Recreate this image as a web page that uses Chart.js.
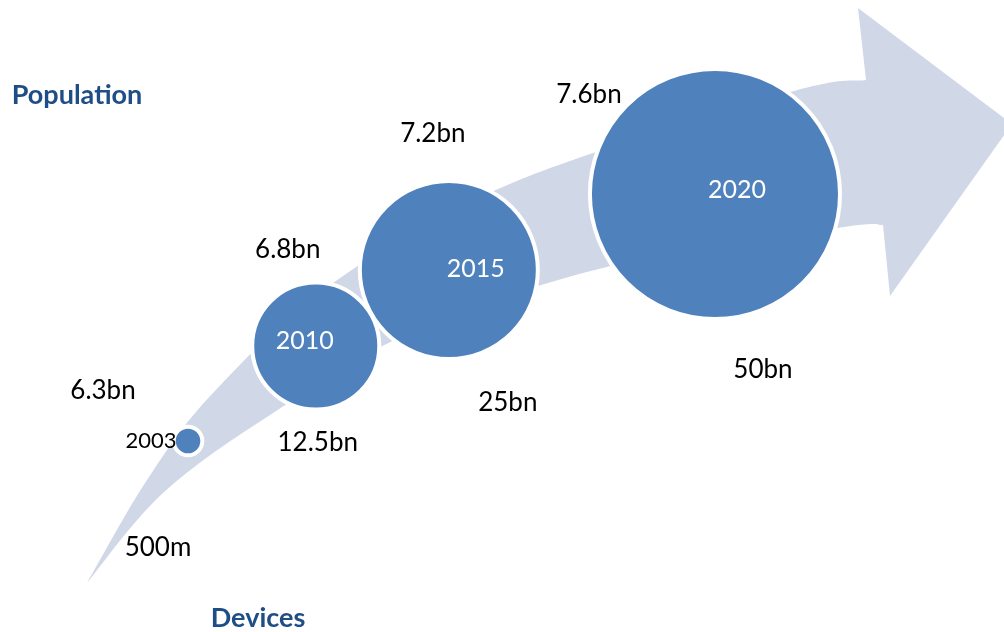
<!DOCTYPE html>
<html>
<head>
<meta charset="utf-8">
<script src="https://cdn.jsdelivr.net/npm/chart.js@4"></script>
<style>
  html, body { margin: 0; padding: 0; background: #fff; }
  #wrap { width: 1004px; height: 632px; position: relative; }
</style>
</head>
<body>
<div id="wrap"><canvas id="chart" width="1004" height="632"></canvas></div>
<script>
// values
const years = ['2003', '2010', '2015', '2020'];
const population = [6.3, 6.8, 7.2, 7.6];          // bn people
const devices = [0.5, 12.5, 25, 50];              // bn devices
const populationLabels = ['6.3bn', '6.8bn', '7.2bn', '7.6bn'];
const deviceLabels = ['500m', '12.5bn', '25bn', '50bn'];

const BLUE = '#4f81bd';
const BAND = '#d0d8e8';
const TITLE = '#1f4e86';

// label placement relative to each bubble (layout only)
const popOffset = [[-85, -50], [-28, -96], [-16, -136], [-126, -99]];
const devOffset = [[-30, 107], [2, 97], [59, 133], [48, 176]];
const yearOffset = [[-37, 0], [-11, -5], [27, -1], [22, -4]];

// catmull-rom through points
function smooth(ctx, pts, first) {
    if (first) ctx.moveTo(pts[0][0], pts[0][1]);
    else ctx.lineTo(pts[0][0], pts[0][1]);
    for (let i = 0; i < pts.length - 1; i++) {
        const p0 = pts[i - 1] || pts[i], p1 = pts[i], p2 = pts[i + 1], p3 = pts[i + 2] || pts[i + 1];
        ctx.bezierCurveTo(
            p1[0] + (p2[0] - p0[0]) / 6, p1[1] + (p2[1] - p0[1]) / 6,
            p2[0] - (p3[0] - p1[0]) / 6, p2[1] - (p3[1] - p1[1]) / 6,
            p2[0], p2[1]);
    }
}

// the sweeping background arrow behind the bubbles
const arrowPlugin = {
    id: 'arrow',
    beforeDatasetsDraw(chart) {
        const ctx = chart.ctx;
        const upper = [[87, 583], [147, 480], [213, 393], [333, 283], [512, 183], [787, 93], [866, 80]];
        const lower = [[883, 225], [837, 228], [603, 268], [410, 333], [273, 413], [163, 493], [87, 583]];
        ctx.save();
        ctx.fillStyle = BAND;
        ctx.beginPath();
        smooth(ctx, upper, true);
        ctx.lineTo(858, 8);
        ctx.lineTo(1012, 124);
        ctx.lineTo(890, 296);
        smooth(ctx, lower, false);
        ctx.closePath();
        ctx.fill();
        ctx.restore();
    }
};

const labelPlugin = {
    id: 'labels',
    afterDatasetsDraw(chart) {
        const ctx = chart.ctx;
        const xs = chart.scales.x, ys = chart.scales.y;
        ctx.save();
        ctx.textAlign = 'center';
        ctx.textBaseline = 'middle';

        ctx.fillStyle = TITLE;
        ctx.font = 'bold 27px Lato';
        ctx.fillText('Population', 77, 95);
        ctx.fillText('Devices', 258, 618);

        for (let i = 0; i < years.length; i++) {
            const cx = xs.getPixelForValue(devices[i]);
            const cy = ys.getPixelForValue(population[i]);
            ctx.fillStyle = '#000';
            ctx.font = '26px Lato';
            ctx.fillText(populationLabels[i], cx + popOffset[i][0], cy + popOffset[i][1]);
            ctx.fillText(deviceLabels[i], cx + devOffset[i][0], cy + devOffset[i][1]);
            // the first bubble is too small for its year, so it sits beside it in black
            if (i === 0) {
                ctx.font = '22px Lato';
            } else {
                ctx.fillStyle = '#fff';
                ctx.font = '25px Lato';
            }
            ctx.fillText(years[i], cx + yearOffset[i][0], cy + yearOffset[i][1]);
        }
        ctx.restore();
    }
};

new Chart(document.getElementById('chart'), {
    type: 'bubble',
    data: {
        labels: years,
        datasets: [{
            data: years.map((y, i) => ({ x: devices[i], y: population[i], r: 17.4 * Math.sqrt(devices[i]) + 2 })),
            backgroundColor: BLUE,
            borderColor: '#fff',
            borderWidth: 4,
            clip: false
        }]
    },
    options: {
        responsive: false,
        animation: false,
        events: [],
        layout: { padding: 0, autoPadding: false },
        plugins: { legend: { display: false }, tooltip: { enabled: false } },
        scales: {
            x: { type: 'linear', display: false, min: -17.16, max: 77.15 },
            y: { type: 'linear', display: false, min: 5.295, max: 8.621 }
        }
    },
    plugins: [arrowPlugin, labelPlugin]
});
</script>
</body>
</html>
